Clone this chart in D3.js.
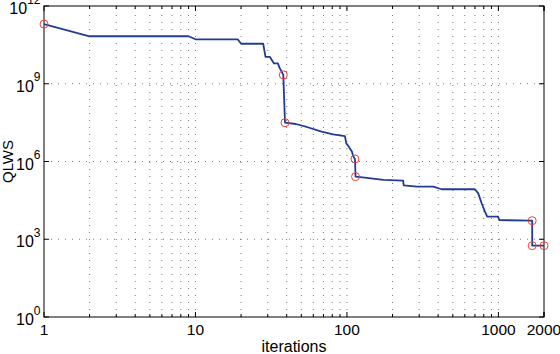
<!DOCTYPE html>
<html lang="en">
<head>
<meta charset="UTF-8">
<title>QLWS vs iterations</title>
<script src="https://d3js.org/d3.v7.min.js"></script>
<style>
  body { margin: 0; background: #fff; }
  text { font-family: "Liberation Sans", Arial, Helvetica, sans-serif; fill: #000; }
  .grid line { stroke: #555; stroke-width: 0.8; stroke-dasharray: 1,6; }
  .frame { fill: none; stroke: #000; stroke-width: 1; }
  .tick-mark { stroke: #000; stroke-width: 1; }
</style>
</head>
<body>
<svg id="chart"></svg>
<script>
// data
const iterations = [1, 2, 9, 10, 19, 20, 28, 29, 31, 33, 35, 36, 37, 38, 39, 46, 55, 68, 81, 97,
  99, 103, 108, 110, 113, 114, 131, 174, 235, 237, 291, 371, 422, 700, 736, 775, 815, 844,
  997, 1012, 1671, 1672, 2000];
const qlws = [2.0e11, 6.8e10, 6.8e10, 5.2e10, 5.2e10, 3.5e10, 3.5e10, 1.08e10, 1.08e10, 6.1e9,
  6.1e9, 4.0e9, 3.0e9, 2.2e9, 3.15e7, 2.8e7, 2.1e7, 1.41e7, 1.12e7, 9.6e6,
  5.0e6, 3.7e6, 2.4e6, 1.6e6, 1.25e6, 2.6e5, 2.4e5, 1.94e5, 1.82e5, 1.19e5, 1.07e5, 1.07e5,
  8.5e4, 8.5e4, 5.9e4, 2.45e4, 1.16e4, 7.4e3, 7.4e3, 5.5e3, 5.2e3, 565, 565];
const markIterations = [1, 38, 39, 113, 114, 1671, 1672, 2000];
const markValues = [2.0e11, 2.2e9, 3.15e7, 1.25e6, 2.6e5, 5.2e3, 565, 565];
const xTickValues = [1, 10, 100, 1000, 2000];
const yExponents = [0, 3, 6, 9, 12];

const width = 560, height = 354;
const margin = { left: 44, right: 16, top: 6, bottom: 37 };

const svg = d3.select("#chart").attr("width", width).attr("height", height);

const x = d3.scaleLog().domain([1, 2000]).range([margin.left, width - margin.right]);
const y = d3.scaleLog().domain([1, 1e12]).range([height - margin.bottom, margin.top]);

const x0 = x.range()[0], x1 = x.range()[1];
const y0 = y.range()[0], y1 = y.range()[1];

// minor + major x grid positions
const xGridValues = [];
for (let d = 1; d <= 1000; d *= 10) {
  for (let k = 1; k <= 9; k++) {
    if (d * k <= 2000) xGridValues.push(d * k);
  }
}
xGridValues.push(2000);

const grid = svg.append("g").attr("class", "grid");
grid.selectAll(".vg")
  .data(xGridValues.filter(v => v > 1 && v < 2000))
  .enter().append("line")
  .attr("x1", d => x(d)).attr("x2", d => x(d))
  .attr("y1", y0).attr("y2", y1);
grid.selectAll(".hg")
  .data(yExponents.filter(e => e > 0 && e < 12))
  .enter().append("line")
  .attr("x1", x0).attr("x2", x1)
  .attr("y1", d => y(Math.pow(10, d))).attr("y2", d => y(Math.pow(10, d)));

// ticks (inward, on all four sides)
const ticks = svg.append("g");
xGridValues.forEach(v => {
  const major = xTickValues.includes(v);
  const len = major ? 5 : 3;
  ticks.append("line").attr("class", "tick-mark")
    .attr("x1", x(v)).attr("x2", x(v)).attr("y1", y0).attr("y2", y0 - len);
  ticks.append("line").attr("class", "tick-mark")
    .attr("x1", x(v)).attr("x2", x(v)).attr("y1", y1).attr("y2", y1 + len);
});
yExponents.forEach(e => {
  const py = y(Math.pow(10, e));
  ticks.append("line").attr("class", "tick-mark")
    .attr("x1", x0).attr("x2", x0 + 5).attr("y1", py).attr("y2", py);
  ticks.append("line").attr("class", "tick-mark")
    .attr("x1", x1).attr("x2", x1 - 5).attr("y1", py).attr("y2", py);
});

svg.append("rect").attr("class", "frame")
  .attr("x", x0).attr("y", y1).attr("width", x1 - x0).attr("height", y0 - y1);

// x tick labels
svg.selectAll(".xl")
  .data(xTickValues)
  .enter().append("text")
  .attr("x", d => x(d)).attr("y", y0 + 17.5)
  .attr("text-anchor", "middle")
  .style("font-size", "15.5px")
  .text(d => d);

// y tick labels: 10 with superscript exponent
yExponents.forEach(e => {
  const t = svg.append("text")
    .attr("x", x0 - 3.5).attr("y", y(Math.pow(10, e)) + 8)
    .attr("text-anchor", "end")
    .style("font-size", "16px");
  t.append("tspan").text("10");
  t.append("tspan").attr("dy", -10.5).style("font-size", "12px").text(e);
});

// axis titles
svg.append("text")
  .attr("transform", `translate(13,${(y0 + y1) / 2}) rotate(-90)`)
  .attr("text-anchor", "middle")
  .style("font-size", "15px")
  .text("QLWS");
svg.append("text")
  .attr("x", (x0 + x1) / 2).attr("y", 352)
  .attr("text-anchor", "middle")
  .style("font-size", "16px")
  .text("iterations");

// series line
const line = d3.line()
  .x(d => x(d[0]))
  .y(d => y(d[1]));
svg.append("path")
  .datum(d3.zip(iterations, qlws))
  .attr("fill", "none")
  .attr("stroke", "#223c96")
  .attr("stroke-width", 1.8)
  .attr("stroke-linejoin", "round")
  .attr("d", line);

// red circle markers
svg.selectAll(".mk")
  .data(d3.zip(markIterations, markValues))
  .enter().append("circle")
  .attr("cx", d => x(d[0])).attr("cy", d => y(d[1]))
  .attr("r", 4)
  .attr("fill", "none")
  .attr("stroke", "#e8413c")
  .attr("stroke-width", 1);
</script>
</body>
</html>
